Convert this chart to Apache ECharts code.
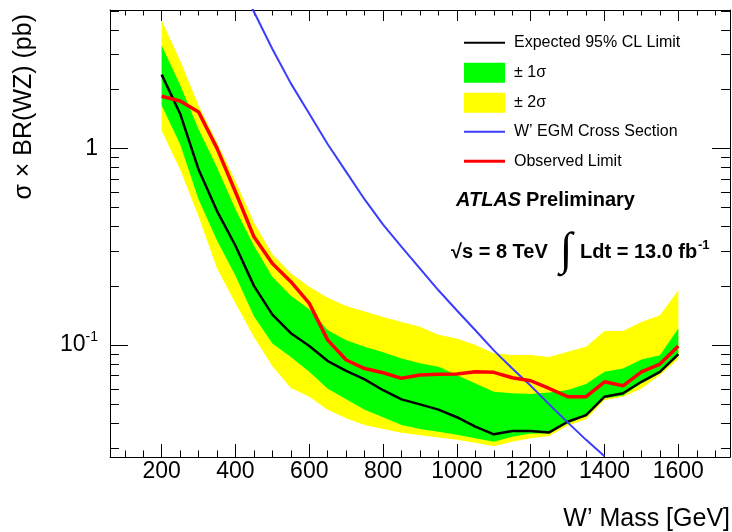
<!DOCTYPE html>
<html><head><meta charset="utf-8">
<script src="https://cdn.jsdelivr.net/npm/echarts@6/dist/echarts.min.js"></script>
<style>html,body{margin:0;padding:0;background:#fff}#c{width:732px;height:532px}</style>
</head><body><div id="c"></div>
<script>
// ---- data ----
const mass = [200,250,300,350,400,450,500,550,600,650,700,750,800,850,900,950,1000,1050,1100,1150,1200,1250,1300,1350,1400,1450,1500,1550,1600];
const expected = [2.37,1.5,0.78,0.48,0.32,0.20,0.143,0.115,0.099,0.083,0.074,0.067,0.059,0.053,0.050,0.047,0.043,0.0385,0.0352,0.0366,0.0366,0.036,0.0408,0.0441,0.0547,0.0569,0.0651,0.0732,0.09];
const observed = [1.84,1.74,1.53,1.0,0.60,0.355,0.26,0.21,0.163,0.106,0.084,0.076,0.0724,0.0678,0.0705,0.0712,0.0713,0.0732,0.0727,0.0683,0.0659,0.0602,0.0547,0.0547,0.0651,0.0621,0.0732,0.0801,0.0989];
const oneSigmaHigh = [3.33,2.1,1.25,0.80,0.49,0.32,0.222,0.178,0.152,0.119,0.106,0.098,0.092,0.0856,0.081,0.0776,0.0705,0.0639,0.058,0.0569,0.0564,0.0574,0.0591,0.0635,0.0732,0.076,0.0846,0.0889,0.1216];
const oneSigmaLow = [1.65,1.05,0.55,0.34,0.225,0.14,0.102,0.087,0.0732,0.060,0.053,0.047,0.043,0.0393,0.0375,0.0363,0.035,0.0336,0.0323,0.0342,0.0355,0.0355,0.040,0.0435,0.0537,0.0555,0.064,0.072,0.088];
const twoSigmaHigh = [4.47,2.8,1.65,1.07,0.68,0.42,0.29,0.232,0.198,0.174,0.158,0.148,0.139,0.131,0.124,0.113,0.108,0.1,0.091,0.089,0.089,0.087,0.0925,0.098,0.118,0.118,0.131,0.142,0.19];
const twoSigmaLow = [1.23,0.78,0.45,0.245,0.163,0.11,0.078,0.0605,0.0547,0.047,0.0425,0.0393,0.0375,0.0359,0.0348,0.0339,0.033,0.0319,0.0306,0.0323,0.0336,0.0345,0.039,0.042,0.0526,0.0547,0.0602,0.0705,0.085];
const egmMass = [400,450,500,550,600,650,700,750,800,850,900,950,1000,1050,1100,1150,1200,1250,1300,1350,1400];
const egmXsec = [7.6,4.95,3.2,2.14,1.5,1.05,0.76,0.55,0.41,0.316,0.245,0.19,0.15,0.119,0.094,0.076,0.0622,0.050,0.0405,0.033,0.0272];

const xMajorTicks = [200,400,600,800,1000,1200,1400,1600];
const xMinorTicks = [100,150,250,300,350,450,500,550,650,700,750,850,900,950,1050,1100,1150,1250,1300,1350,1450,1500,1550,1650,1700];
const yMajorTicks = [0.1,1];
const yMinorTicks = [0.03,0.04,0.05,0.06,0.07,0.08,0.09,0.2,0.3,0.4,0.5,0.6,0.7,0.8,0.9,2,3,4,5];

const names = {
  exp: 'Expected 95% CL Limit',
  s1: '± 1σ',
  s2: '± 2σ',
  egm: 'W’ EGM Cross Section',
  obs: 'Observed Limit'
};

// ---- chart ----
const FONT = '"Liberation Sans", Arial, Helvetica, sans-serif';
const X_MIN = 60, X_MAX = 1740, Y_MIN = 0.027, Y_MAX = 5.05;
const pairs = (xs, ys) => xs.map((x, i) => [x, ys[i]]);

function xAx(pos, ticks, len, showLine, labels) {
  return {
    type: 'value', min: X_MIN, max: X_MAX, position: pos,
    axisLine: {show: showLine, onZero: false, lineStyle: {color: '#000', width: 1}},
    axisTick: {show: true, inside: true, length: len, customValues: ticks, lineStyle: {color: '#000', width: 1}},
    axisLabel: labels ? {show: true, customValues: ticks, fontSize: 23, color: '#000', margin: 3, fontFamily: FONT,
      formatter: v => String(Math.round(v))} : {show: false},
    splitLine: {show: false}
  };
}
function yAx(pos, ticks, len, showLine, labels) {
  return {
    type: 'log', logBase: 10, min: Y_MIN, max: Y_MAX, position: pos,
    axisLine: {show: showLine, onZero: false, lineStyle: {color: '#000', width: 1}},
    axisTick: {show: true, inside: true, length: len, customValues: ticks, lineStyle: {color: '#000', width: 1}},
    axisLabel: labels ? {
      show: true, customValues: ticks, margin: 12, color: '#000', fontFamily: FONT, fontSize: 23,
      formatter: v => (Math.abs(v - 1) < 1e-9 ? '{b|1}' : '{b|10}{s|-1}'),
      rich: {
        b: {fontSize: 23, fontFamily: FONT, color: '#000'},
        s: {fontSize: 14, fontFamily: FONT, color: '#000', padding: [0, 0, 16, 0]}
      }
    } : {show: false},
    splitLine: {show: false}
  };
}

function band(name, hi, lo, color, z) {
  return {
    name: name, type: 'custom', z: z, silent: true,
    data: [[mass[0], lo[0]]],
    itemStyle: {color: color},
    renderItem: function (params, api) {
      const pts = [];
      for (let i = 0; i < mass.length; i++) pts.push(api.coord([mass[i], hi[i]]));
      for (let i = mass.length - 1; i >= 0; i--) pts.push(api.coord([mass[i], lo[i]]));
      return {type: 'polygon', shape: {points: pts}, style: {fill: color, stroke: null}};
    }
  };
}

const legendBase = {
  left: 464, padding: 0, itemWidth: 41, itemGap: 0, icon: 'rect', selectedMode: false,
  textStyle: {fontSize: 16, fontFamily: FONT, color: '#000', lineHeight: 20, padding: [0, 0, 0, 4]},
  itemStyle: {borderWidth: 0}
};

const chart = echarts.init(document.getElementById('c'), null, {renderer: 'canvas'});
chart.setOption({
  animation: false,
  backgroundColor: '#fff',
  grid: {left: 110, right: 2, top: 10, bottom: 75, containLabel: false},
  xAxis: [
    xAx('bottom', xMajorTicks, 13, true, true),
    xAx('bottom', xMinorTicks, 6.5, false, false),
    xAx('top', xMajorTicks, 11, true, false),
    xAx('top', xMinorTicks, 5.5, false, false)
  ],
  yAxis: [
    yAx('left', yMajorTicks, 18, true, true),
    yAx('left', yMinorTicks, 9, false, false),
    yAx('right', yMajorTicks, 18, true, false),
    yAx('right', yMinorTicks, 9, false, false)
  ],
  legend: [
    Object.assign({}, legendBase, {data: [names.exp], top: 32.7, itemHeight: 2}),
    Object.assign({}, legendBase, {data: [names.s1], top: 62.7, itemHeight: 20}),
    Object.assign({}, legendBase, {data: [names.s2], top: 92.7, itemHeight: 20}),
    Object.assign({}, legendBase, {data: [names.egm], top: 121.7, itemHeight: 2}),
    Object.assign({}, legendBase, {data: [names.obs], top: 151.2, itemHeight: 3})
  ],
  series: [
    band(names.s2, twoSigmaHigh, twoSigmaLow, '#ffff00', 1),
    band(names.s1, oneSigmaHigh, oneSigmaLow, '#00ff00', 2),
    {name: names.exp, type: 'line', data: pairs(mass, expected), symbol: 'none', color: '#000',
     lineStyle: {color: '#000', width: 2.5}, z: 3},
    {name: names.egm, type: 'line', data: pairs(egmMass, egmXsec), symbol: 'none', color: '#3c3cff',
     lineStyle: {color: '#3c3cff', width: 2}, z: 4, clip: true},
    {name: names.obs, type: 'line', data: pairs(mass, observed), symbol: 'none', color: '#ff0000',
     lineStyle: {color: '#ff0000', width: 3.5}, z: 5}
  ],
  graphic: [
    {type: 'text', x: 24, y: 14, rotation: Math.PI / 2,
     style: {text: 'σ × BR(WZ) (pb)', font: '25px ' + FONT, fill: '#000', align: 'right', verticalAlign: 'middle'}},
    {type: 'text', x: 730, y: 519,
     style: {text: 'W’ Mass [GeV]', font: '25px ' + FONT, fill: '#000', align: 'right', verticalAlign: 'middle'}},
    {type: 'text', x: 456, y: 200,
     style: {text: 'ATLAS', font: 'italic bold 20px ' + FONT, fill: '#000', align: 'left', verticalAlign: 'middle'}},
    {type: 'text', x: 526, y: 200,
     style: {text: 'Preliminary', font: 'bold 20px ' + FONT, fill: '#000', align: 'left', verticalAlign: 'middle'}},
    {type: 'text', x: 451, y: 252,
     style: {text: '√s = 8 TeV', font: 'bold 20px ' + FONT, fill: '#000', align: 'left', verticalAlign: 'middle'}},
    {type: 'text', x: 566, y: 252,
     style: {text: '∫', font: '46px "Liberation Serif", "DejaVu Serif", serif', fill: '#000', align: 'center', verticalAlign: 'middle'}},
    {type: 'text', x: 580, y: 252,
     style: {text: 'Ldt = 13.0 fb', font: 'bold 20px ' + FONT, fill: '#000', align: 'left', verticalAlign: 'middle'}},
    {type: 'text', x: 698, y: 245,
     style: {text: '-1', font: 'bold 13px ' + FONT, fill: '#000', align: 'left', verticalAlign: 'middle'}}
  ]
});
</script>
</body></html>
